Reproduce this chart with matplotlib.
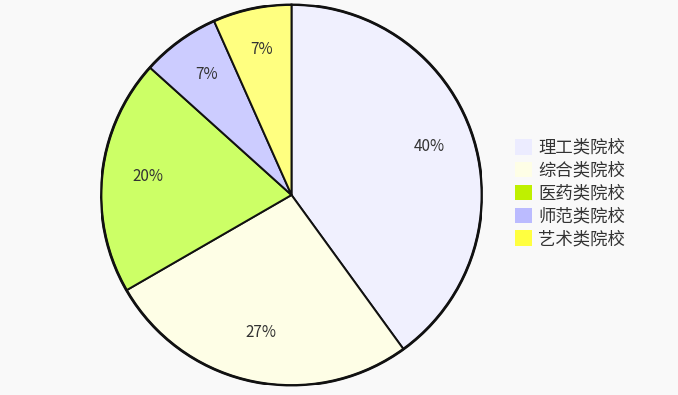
import matplotlib
matplotlib.use("Agg")
import matplotlib.pyplot as plt
from matplotlib.patches import Patch

plt.rcParams['font.family'] = ['Noto Sans CJK SC', 'DejaVu Sans']

# data
categories = ['理工类院校', '综合类院校', '医药类院校', '师范类院校', '艺术类院校']
counts = [6, 4, 3, 1, 1]
colors = ['#f0f0fe', '#fefee6', '#ccff66', '#ccccff', '#ffff80']
legend_colors = ['#ececff', '#fefee6', '#bff000', '#bbbbff', '#ffff40']

fig = plt.figure(figsize=(6.78, 3.95), dpi=100, facecolor='#f9f9f9')
ax = fig.add_axes([101 / 678, 9.5 / 395, 381 / 678, 381 / 395])
ax.set_facecolor('none')

wedges, texts, autotexts = ax.pie(
    counts, colors=colors, startangle=90, counterclock=False,
    autopct='%.0f%%', pctdistance=0.76, radius=1,
    wedgeprops=dict(edgecolor='#111111', linewidth=1.4),
    textprops=dict(fontsize=11, color='#333333'))

# the CJK font sits a little low when centred; nudge the labels up
for t in autotexts:
    x, y = t.get_position()
    t.set_position((x, y + 0.02))

# thicker outer rim
rim = plt.Circle((0, 0), 1, fill=False, edgecolor='#111111', linewidth=2)
ax.add_patch(rim)
ax.set_xlim(-1, 1)
ax.set_ylim(-1, 1)
ax.set_aspect('equal')
ax.axis('off')

handles = [Patch(facecolor=c, edgecolor='none') for c in legend_colors]
fig.legend(handles, categories, loc='upper left',
           bbox_to_anchor=(506 / 678, 1 - 130 / 395),
           frameon=False, fontsize=12.5, labelcolor='#333333',
           handlelength=1.0, handleheight=1.0, handletextpad=0.35,
           labelspacing=0.28, borderpad=0)

fig.savefig('out.png', dpi=100, facecolor=fig.get_facecolor())
